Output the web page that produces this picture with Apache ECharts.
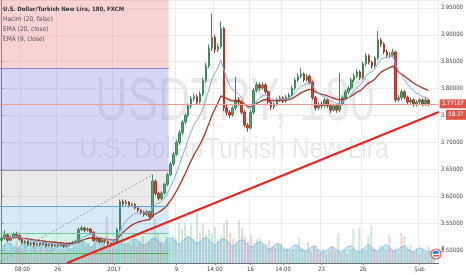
<!DOCTYPE html>
<html><head><meta charset="utf-8">
<script src="https://cdn.jsdelivr.net/npm/echarts@6/dist/echarts.min.js"></script>
<style>html,body{margin:0;padding:0;background:#fff}#c{width:466px;height:275px}</style>
</head><body><div id="c"></div>
<script>
// ---------- DATA ----------
const N = 148; // bar slots on the axis (last 3 are empty right margin)
const tickIndex  = [7, 19, 38, 59, 72, 84, 95, 108, 122, 141];
const tickLabels = ['08:00', '26', '2017', '9', '14:00', '16', '14:00', '23', '26', 'Şub'];

// [open, close, low, high]
const candles = [
[3.518,3.522,3.514,3.526],[3.522,3.528,3.519,3.537],[3.528,3.518,3.515,3.531],[3.518,3.524,3.516,3.527],
[3.524,3.530,3.521,3.533],[3.530,3.527,3.523,3.534],[3.527,3.520,3.517,3.529],[3.520,3.514,3.511,3.522],
[3.514,3.516,3.510,3.519],[3.516,3.511,3.508,3.518],[3.511,3.513,3.507,3.516],[3.513,3.509,3.506,3.515],
[3.509,3.512,3.507,3.514],[3.512,3.510,3.507,3.514],[3.510,3.513,3.508,3.516],[3.513,3.508,3.505,3.514],
[3.508,3.511,3.506,3.513],[3.511,3.507,3.504,3.513],[3.507,3.510,3.505,3.512],[3.510,3.508,3.505,3.512],
[3.508,3.510,3.506,3.513],[3.510,3.507,3.504,3.512],[3.507,3.509,3.505,3.512],[3.509,3.511,3.507,3.514],
[3.511,3.514,3.509,3.517],[3.514,3.516,3.511,3.519],[3.516,3.538,3.514,3.542],[3.538,3.541,3.535,3.545],
[3.541,3.537,3.533,3.543],[3.537,3.539,3.534,3.542],[3.539,3.533,3.530,3.541],[3.533,3.518,3.515,3.535],
[3.518,3.521,3.515,3.524],[3.521,3.515,3.512,3.523],[3.515,3.518,3.513,3.521],[3.518,3.516,3.512,3.520],
[3.516,3.512,3.509,3.518],[3.512,3.510,3.506,3.514],[3.510,3.513,3.507,3.516],[3.513,3.538,3.510,3.541],
[3.538,3.590,3.535,3.594],[3.590,3.586,3.582,3.594],[3.586,3.589,3.583,3.593],[3.589,3.583,3.579,3.591],
[3.583,3.585,3.580,3.588],[3.585,3.578,3.575,3.587],[3.578,3.574,3.570,3.580],[3.574,3.570,3.566,3.576],
[3.570,3.566,3.562,3.573],[3.566,3.571,3.563,3.574],[3.571,3.562,3.558,3.573],[3.562,3.628,3.560,3.640],
[3.628,3.605,3.601,3.631],[3.605,3.596,3.592,3.608],[3.596,3.606,3.593,3.609],[3.606,3.622,3.603,3.625],
[3.622,3.640,3.619,3.644],[3.640,3.660,3.637,3.664],[3.660,3.678,3.656,3.682],[3.678,3.700,3.675,3.705],
[3.700,3.718,3.696,3.723],[3.718,3.738,3.714,3.742],[3.738,3.750,3.733,3.755],[3.750,3.768,3.746,3.772],
[3.768,3.781,3.763,3.786],[3.781,3.785,3.776,3.791],[3.785,3.775,3.770,3.789],[3.775,3.790,3.772,3.795],
[3.790,3.815,3.786,3.820],[3.815,3.842,3.811,3.848],[3.842,3.875,3.838,3.882],[3.875,3.895,3.870,3.940],
[3.895,3.872,3.866,3.900],[3.872,3.878,3.868,3.884],[3.878,3.912,3.874,3.925],[3.912,3.764,3.758,3.915],
[3.764,3.756,3.750,3.770],[3.756,3.751,3.745,3.760],[3.751,3.764,3.748,3.768],[3.764,3.779,3.760,3.822],
[3.779,3.775,3.768,3.784],[3.775,3.756,3.752,3.778],[3.756,3.732,3.728,3.760],[3.732,3.727,3.720,3.736],
[3.727,3.756,3.724,3.760],[3.756,3.797,3.752,3.801],[3.797,3.807,3.793,3.812],[3.807,3.801,3.796,3.811],
[3.801,3.807,3.797,3.812],[3.807,3.794,3.790,3.810],[3.794,3.775,3.771,3.797],[3.775,3.766,3.761,3.778],
[3.766,3.771,3.762,3.775],[3.771,3.779,3.768,3.783],[3.779,3.783,3.775,3.787],[3.783,3.777,3.773,3.786],
[3.777,3.784,3.774,3.788],[3.784,3.788,3.780,3.792],[3.788,3.801,3.785,3.805],[3.801,3.816,3.797,3.820],
[3.816,3.823,3.812,3.828],[3.823,3.827,3.819,3.838],[3.827,3.816,3.812,3.830],[3.816,3.823,3.813,3.827],
[3.823,3.812,3.808,3.826],[3.812,3.783,3.779,3.815],[3.783,3.764,3.759,3.786],[3.764,3.771,3.760,3.775],
[3.771,3.768,3.763,3.776],[3.768,3.779,3.765,3.783],[3.779,3.768,3.764,3.782],[3.768,3.760,3.755,3.771],
[3.760,3.768,3.757,3.772],[3.768,3.760,3.755,3.771],[3.760,3.771,3.756,3.829],[3.771,3.783,3.768,3.787],
[3.783,3.794,3.780,3.798],[3.794,3.801,3.790,3.805],[3.801,3.816,3.797,3.820],[3.816,3.823,3.812,3.828],
[3.823,3.831,3.819,3.836],[3.831,3.820,3.816,3.834],[3.820,3.846,3.817,3.850],[3.846,3.861,3.842,3.866],
[3.861,3.849,3.845,3.864],[3.849,3.842,3.837,3.852],[3.842,3.857,3.839,3.861],[3.857,3.890,3.853,3.907],
[3.890,3.883,3.878,3.894],[3.883,3.868,3.864,3.886],[3.868,3.862,3.857,3.872],[3.862,3.862,3.856,3.868],
[3.862,3.868,3.858,3.874],[3.868,3.779,3.774,3.871],[3.779,3.783,3.775,3.788],[3.783,3.794,3.779,3.798],
[3.794,3.784,3.780,3.797],[3.784,3.775,3.771,3.787],[3.775,3.779,3.772,3.783],[3.779,3.770,3.766,3.782],
[3.770,3.775,3.767,3.779],[3.775,3.779,3.771,3.783],[3.779,3.771,3.767,3.782],[3.771,3.779,3.768,3.783],
[3.779,3.77167,3.767,3.781]
];

// volume (thousands)
const volumes = [
14,18,12,20,16,22,15,12,18,10, 14,20,12,16,11,19,13,15,10,12,
14,11,16,13,18,15,28,22,17,20, 16,24,14,18,20,46,18,14,16,32,
38,22,20,18,24,16,22,27,19,21, 24,45,30,22,18,26,22,28,25,40,
34,40,26,38,24,50,30,38,28,33, 30,36,24,28,40,43,30,24,22,43,
35,26,22,28,20,24,25,18,20,23, 17,15,20,20,13,15,12,14,17,25,
15,12,21,11,17,13,10,14,9,12,  16,11,30,10,14,9,13,34,12,35,
15,12,26,37,14,11,18,16,13,28, 12,16,10,30,27,14,18,12,15,9,
13,10,17,12,11
];
// "Hacim" average band
const volumeAvg = [
16,18,20,19,17,15,16,19,21,20,17,15,16,18,
20,19,16,14,15,18,20,19,16,14,15,18,21,22,
20,17,16,19,22,21,18,16,18,22,24,23,20,18,
19,22,24,23,20,18,19,22,24,25,22,19,20,23,
25,24,21,19,21,24,26,25,22,20,21,24,25,23,
20,18,20,23,24,22,19,17,19,22,23,21,18,16,
17,20,21,19,16,14,15,18,19,17,14,13,14,17,
18,16,13,12,13,16,17,15,12,11,12,15,16,14,
12,11,13,16,17,15,12,11,13,16,18,16,13,12,
14,17,18,16,13,12,14,16,17,15,12,11,13,15,
14,12,11,12,13
];

const priceMin = 3.4758, priceMax = 3.9647;
const lastPrice = 3.77167;
const countdown = '58:37';
// Fibonacci tool (levels & right end, in bar-index units)
const fibLevels = [3.4758, 3.4944, 3.5316, 3.5818, 3.6487, 3.8383, 3.9647];
const fibColors = ['rgba(110,200,120,0.28)','rgba(90,205,165,0.26)','rgba(100,170,225,0.26)','rgba(150,150,150,0.2)','rgba(140,140,232,0.36)','rgba(236,150,150,0.42)'];
const fibLineColors = ['#4caf50','#66c9a0','#5aa6d6','#9a9a9a','#8e80d8'];
const fibStart = -0.5, fibEnd = 56.4;
const fibAnchor = [[-0.5, 3.478], [51, 3.640]];
const trendLine = [[22.1, 3.4758], [147.5, 3.7565]];

// ---------- BUILD ----------
const categories = Array.from({length: N}, (_, i) => String(i));
const closes = candles.map(c => c[1]);
function ema(arr, p) { const k = 2 / (p + 1); let prev; return arr.map((v, i) => (prev = i === 0 ? v : v * k + prev * (1 - k))); }
const ema20 = ema(closes, 20), ema9 = ema(closes, 9);
const isTick = (i) => tickIndex.indexOf(i) >= 0;
const FONT = "'Liberation Sans Narrow','DejaVu Sans Condensed','Arial Narrow',sans-serif";

const bandAreas = [], bandLines = [];
for (let b = 0; b < fibColors.length; b++) {
  bandAreas.push([{coord: [fibStart, fibLevels[b]], itemStyle: {color: fibColors[b]}}, {coord: [fibEnd, fibLevels[b + 1]]}]);
  if (b < fibLineColors.length) bandLines.push([{coord: [fibStart, fibLevels[b + 1]], lineStyle: {color: fibLineColors[b]}}, {coord: [fibEnd, fibLevels[b + 1]]}]);
}

const volData = volumes.map((v, i) => ({value: v, itemStyle: {color: candles[i][1] >= candles[i][0] ? 'rgba(92,178,120,0.30)' : 'rgba(210,110,95,0.30)'}}));

const GRID_TOP = 0, GRID_H = 263;
const priceY = GRID_TOP + (priceMax - lastPrice) / (priceMax - priceMin) * GRID_H;

const chart = echarts.init(document.getElementById('c'), null, {renderer: 'canvas'});
const grid = {left: 0, right: 21, top: GRID_TOP, height: GRID_H};
function txt(id, x, y, text, fill, font, extra) {
  return Object.assign({id: id, type: 'text', x: x, y: y, silent: true, style: {text: text, fill: fill, font: font}}, extra || {});
}
const WM_FONT = 'Arial, "Liberation Sans", sans-serif';
chart.setOption({
  animation: false,
  backgroundColor: '#fff',
  grid: [Object.assign({}, grid), Object.assign({}, grid)],
  xAxis: [
    {type: 'category', gridIndex: 0, data: categories, boundaryGap: true,
     axisLine: {lineStyle: {color: '#6f6f6f'}},
     axisTick: {show: true, alignWithLabel: true, interval: isTick, length: 2, lineStyle: {color: '#888'}},
     axisLabel: {interval: isTick, formatter: (v, i) => tickLabels[tickIndex.indexOf(i)] || '', fontSize: 6, color: '#444', margin: 3, fontFamily: FONT},
     splitLine: {show: true, interval: isTick, lineStyle: {color: '#ebebeb'}}},
    {type: 'value', gridIndex: 0, min: -0.5, max: N - 0.5, show: false},
    {type: 'category', gridIndex: 1, data: categories, show: false}
  ],
  yAxis: [
    {type: 'value', gridIndex: 0, position: 'right', min: priceMin, max: priceMax, splitNumber: 10,
     axisLine: {show: true, lineStyle: {color: '#6f6f6f'}},
     axisTick: {show: true, length: 2, lineStyle: {color: '#888'}},
     axisLabel: {showMinLabel: false, showMaxLabel: false, formatter: v => v.toFixed(5), fontSize: 6, color: '#444', margin: 2, fontFamily: FONT},
     splitLine: {show: true, lineStyle: {color: '#ebebeb'}}},
    {type: 'value', gridIndex: 1, min: 0, max: 263, show: false}
  ],
  graphic: {elements: [
    txt('wm1', 235, 103, '', '', '', {z: 0, scaleX: 0.73, style: {text: 'USDTRY, 180', fill: 'rgba(0,0,0,0.09)', font: '62px ' + WM_FONT, textAlign: 'center', textVerticalAlign: 'middle'}}),
    txt('wm2', 234, 150, '', '', '', {z: 0, scaleX: 0.82, style: {text: 'U.S. Dollar/Turkish New Lira', fill: 'rgba(0,0,0,0.09)', font: '30px ' + WM_FONT, textAlign: 'center', textVerticalAlign: 'middle'}}),
    txt('lg1', 3, 6, 'U.S. Dollar/Turkish New Lira, 180, FXCM', '#333', 'bold 6px ' + FONT, {z: 100}),
    txt('lg2', 3, 16, 'Hacim (20, false)', '#555', '6.5px ' + FONT, {z: 100}),
    txt('lg3', 3, 26, 'EMA (20, close)', '#555', '6.5px ' + FONT, {z: 100}),
    txt('lg4', 3, 36, 'EMA (9, close)', '#555', '6.5px ' + FONT, {z: 100}),
    {id: 'cdbox', type: 'rect', z: 100, silent: true, shape: {x: 446, y: priceY + 6, width: 20, height: 10}, style: {fill: '#e0554b'}},
    txt('cdtxt', 456, priceY + 11, '', '', '', {z: 101, style: {text: countdown, fill: '#fff', font: '6px ' + FONT, textAlign: 'center', textVerticalAlign: 'middle'}}),
    {id: 'ev1', type: 'circle', z: 100, silent: true, shape: {cx: 436, cy: 254, r: 5}, style: {fill: '#fff', stroke: '#e45b5b', lineWidth: 1.2}},
    {id: 'ev2', type: 'sector', z: 101, silent: true, shape: {cx: 436, cy: 254, r: 3.5, startAngle: Math.PI, endAngle: Math.PI * 1.9}, style: {fill: '#3f7fd9'}},
    {id: 'ev3', type: 'rect', z: 101, silent: true, shape: {x: 433, y: 255, width: 6, height: 1.5}, style: {fill: '#e45b5b'}},
    txt('ev4', 441, 245, '2', '#333', '6px ' + FONT, {z: 101})
  ]},
  series: [
    {type: 'line', xAxisIndex: 1, yAxisIndex: 0, z: 1, data: fibAnchor, showSymbol: false, silent: true,
     lineStyle: {color: '#9a9a9a', width: 1, type: [2, 2]},
     markArea: {silent: true, data: bandAreas},
     markLine: {silent: true, symbol: 'none', label: {show: false}, lineStyle: {width: 1, type: 'solid'}, data: bandLines}},
    {type: 'bar', xAxisIndex: 2, yAxisIndex: 1, z: 2, data: volData, barWidth: '65%', silent: true},
    {type: 'line', xAxisIndex: 2, yAxisIndex: 1, z: 2, data: volumeAvg, smooth: true, showSymbol: false, silent: true,
     lineStyle: {color: 'rgba(90,170,230,0.8)', width: 0.8}, areaStyle: {color: 'rgba(110,185,240,0.5)'}},
    {type: 'candlestick', xAxisIndex: 0, yAxisIndex: 0, z: 3, data: candles, barWidth: '68%',
     itemStyle: {color: '#5aa274', color0: '#c94b3c', borderColor: '#3f8a5c', borderColor0: '#a8392c', borderWidth: 1},
     markLine: {silent: true, symbol: 'none', precision: 5,
       lineStyle: {color: '#f19a92', width: 1, type: 'solid'},
       label: {show: true, position: 'end', distance: 1, formatter: () => lastPrice.toFixed(5), backgroundColor: '#e0554b', color: '#fff', fontSize: 6, fontFamily: FONT, padding: [2, 2, 1, 2]},
       data: [{yAxis: lastPrice}]}},
    {type: 'line', xAxisIndex: 0, yAxisIndex: 0, z: 4, data: ema20, showSymbol: false, silent: true, lineStyle: {color: '#a8341f', width: 1.3}},
    {type: 'line', xAxisIndex: 0, yAxisIndex: 0, z: 4, data: ema9, showSymbol: false, silent: true, lineStyle: {color: '#8aa5e6', width: 1}},
    {type: 'line', xAxisIndex: 1, yAxisIndex: 0, z: 5, data: trendLine, showSymbol: false, silent: true, lineStyle: {color: '#f2201b', width: 2}}
  ]
});
</script></body></html>
